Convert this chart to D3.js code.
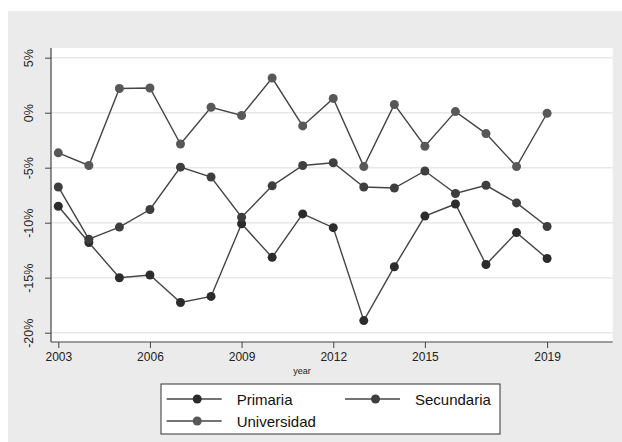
<!DOCTYPE html>
<html>
<head>
<meta charset="utf-8">
<script src="https://cdn.jsdelivr.net/npm/d3@7"></script>
<style>
  html, body { margin: 0; padding: 0; background: #ffffff; }
  svg { display: block; font-family: "Liberation Sans", Arial, Helvetica, sans-serif; }
</style>
</head>
<body>
<svg id="chart" width="622" height="442"></svg>
<script>
// Year-over-year change (%) by education level
const years = [2003, 2004, 2005, 2006, 2007, 2008, 2009, 2010, 2011, 2012, 2013, 2014, 2015, 2016, 2017, 2018, 2019];
const primaria    = [-8.5, -11.8, -15.0, -14.75, -17.25, -16.7, -10.1, -13.15, -9.2, -10.45, -18.9, -14.0, -9.4, -8.3, -13.8, -10.9, -13.25];
const secundaria  = [-6.75, -11.5, -10.4, -8.8, -4.95, -5.85, -9.5, -6.65, -4.8, -4.55, -6.75, -6.85, -5.3, -7.35, -6.6, -8.2, -10.35];
const universidad = [-3.65, -4.8, 2.2, 2.25, -2.85, 0.5, -0.25, 3.15, -1.2, 1.3, -4.9, 0.75, -3.05, 0.1, -1.9, -4.9, -0.05];
const seriesNames = ["Primaria", "Secundaria", "Universidad"];
const seriesColors = ["#2c2c2c", "#3e3e3e", "#585858"];
const yTicks = [5, 0, -5, -10, -15, -20];
const xTicks = [2003, 2006, 2009, 2012, 2015, 2019];
const xTitle = "year";

const svg = d3.select("#chart");

// graph background
svg.append("rect").attr("x", 8).attr("y", 11).attr("width", 614).attr("height", 431).attr("fill", "#ebebeb");

// plot region
const plot = { left: 51, right: 612.7, top: 48, bottom: 342 };
svg.append("rect")
  .attr("x", plot.left).attr("y", plot.top)
  .attr("width", plot.right - plot.left).attr("height", plot.bottom - plot.top)
  .attr("fill", "#ffffff");

const x = d3.scaleLinear().domain([2003, 2019]).range([58.3, 547.1]);
const y = d3.scaleLinear().domain([-20, 5]).range([332.7, 57.7]);

// horizontal grid
svg.append("g").selectAll("line").data(yTicks).join("line")
  .attr("x1", plot.left).attr("x2", plot.right)
  .attr("y1", d => y(d)).attr("y2", d => y(d))
  .attr("stroke", "#e8e8e8").attr("stroke-width", 1.5);

// y axis
const yAxis = svg.append("g").attr("transform", `translate(${plot.left},0)`)
  .call(d3.axisLeft(y).tickValues(yTicks).tickFormat(d => d + "%").tickSize(6).tickPadding(0));
yAxis.select(".domain").remove();
yAxis.selectAll(".tick line").attr("stroke", "#444").attr("stroke-width", 1);
yAxis.selectAll(".tick text")
  .attr("x", 0).attr("dy", null)
  .attr("transform", "translate(-18,0) rotate(-90)")
  .attr("text-anchor", "middle")
  .attr("dominant-baseline", "auto")
  .attr("font-size", 12.5).attr("fill", "#222");

// x axis
const xAxis = svg.append("g").attr("transform", `translate(0,${plot.bottom})`)
  .call(d3.axisBottom(x).tickValues(xTicks).tickFormat(d3.format("d")).tickSize(6).tickPadding(4));
xAxis.select(".domain").remove();
xAxis.selectAll(".tick line").attr("stroke", "#444").attr("stroke-width", 1);
xAxis.selectAll(".tick text").attr("font-size", 12).attr("fill", "#222");

// axis lines
svg.append("line").attr("x1", plot.left).attr("x2", plot.left).attr("y1", plot.top).attr("y2", plot.bottom)
  .attr("stroke", "#444").attr("stroke-width", 1.2);
svg.append("line").attr("x1", plot.left).attr("x2", plot.right).attr("y1", plot.bottom).attr("y2", plot.bottom)
  .attr("stroke", "#444").attr("stroke-width", 1.2);

svg.append("text").attr("x", 302).attr("y", 374).attr("text-anchor", "middle")
  .attr("font-size", 9).attr("fill", "#222").text(xTitle);

// series
const allSeries = [primaria, secundaria, universidad];
const line = d3.line().x((d, i) => x(years[i])).y(d => y(d));
allSeries.forEach((vals, s) => {
  const g = svg.append("g");
  g.append("path").attr("d", line(vals)).attr("fill", "none")
    .attr("stroke", "#444").attr("stroke-width", 1.4);
  g.selectAll("circle").data(vals).join("circle")
    .attr("cx", (d, i) => x(years[i])).attr("cy", d => y(d)).attr("r", 4.5)
    .attr("fill", seriesColors[s]);
});

// legend
const lg = svg.append("g");
lg.append("rect").attr("x", 161).attr("y", 384).attr("width", 339).attr("height", 50)
  .attr("fill", "#ffffff").attr("stroke", "#333").attr("stroke-width", 1);
const legendPos = [
  { lx: 166.7, ty: 399 },
  { lx: 345, ty: 399 },
  { lx: 166.7, ty: 421 }
];
seriesNames.forEach((name, s) => {
  const p = legendPos[s];
  lg.append("line").attr("x1", p.lx).attr("x2", p.lx + 55).attr("y1", p.ty).attr("y2", p.ty)
    .attr("stroke", "#444").attr("stroke-width", 1.4);
  lg.append("circle").attr("cx", p.lx + 30.5).attr("cy", p.ty).attr("r", 4.5).attr("fill", seriesColors[s]);
  lg.append("text").attr("x", p.lx + 70).attr("y", p.ty + 5.5)
    .attr("font-size", 15).attr("fill", "#111").text(name);
});
</script>
</body>
</html>
